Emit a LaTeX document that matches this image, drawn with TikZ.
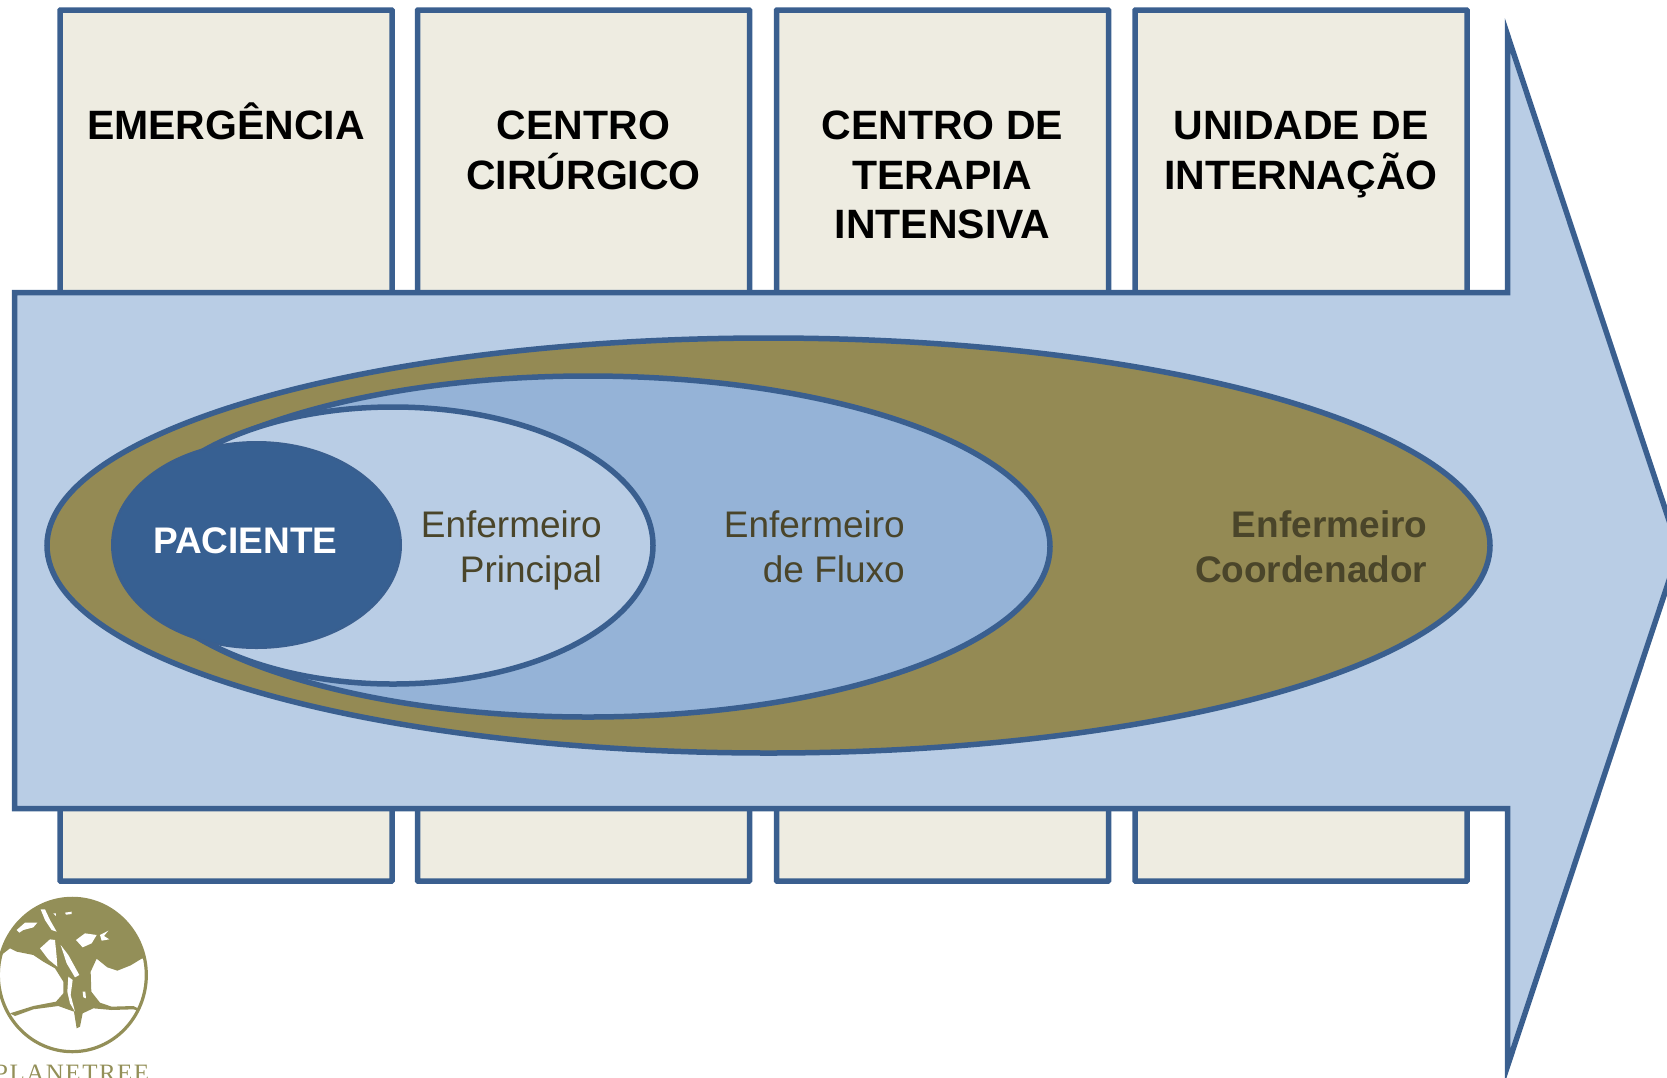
\documentclass[tikz,border=0pt]{standalone}
\usepackage{fontspec}
\setmainfont{Liberation Sans}
\newfontfamily\logoserif{Liberation Serif}[LetterSpace=6]
\usetikzlibrary{shapes.geometric}
\definecolor{edgeblue}{HTML}{3A5F8F}
\definecolor{boxfill}{HTML}{EEECE1}
\definecolor{paleblue}{HTML}{B9CDE5}
\definecolor{midblue}{HTML}{95B3D7}
\definecolor{olivefill}{HTML}{948A54}
\definecolor{patientblue}{HTML}{376092}
\definecolor{olivetext}{HTML}{4A452A}
\definecolor{logoolive}{HTML}{938F58}
\newcommand{\capline}{\rule{0pt}{40pt}}
\newcommand{\roleline}{\rule{0pt}{30pt}}
\tikzset{
  stage/.style={draw=edgeblue,fill=boxfill,line width=5.5pt,minimum width=332pt,minimum height=871pt,inner sep=0pt,rounded corners=0.5pt},
  ring/.style={ellipse,draw=edgeblue,line width=5.5pt,inner sep=0pt},
  stagetext/.style={anchor=north,inner sep=0pt,align=center,text=black,font=\fontsize{41}{49.5}\selectfont\bfseries},
  roletext/.style={anchor=north east,inner sep=0pt,align=right,text=olivetext,font=\fontsize{37}{45.7}\selectfont},
}
\begin{document}
\begin{tikzpicture}[x=1pt,y=-1pt]
\useasboundingbox (0,0) rectangle (1667,1077);
% stage boxes
\node[stage] (b1) at (226,445.5) {};
\node[stage] (b2) at (583.5,445.5) {};
\node[stage] (b3) at (942.5,445.5) {};
\node[stage] (b4) at (1301,445.5) {};
% big arrow
\draw[edgeblue,fill=paleblue,line width=5.5pt,miter limit=10]
  (14.5,292.5) -- (1507.5,292.5) -- (1507.5,35) -- (1679,550.5) -- (1507.5,1066) -- (1507.5,808.5) -- (14.5,808.5) -- cycle;
% rings
\node[ring,fill=olivefill,minimum width=1443pt,minimum height=415pt] (r1) at (768.5,545.5) {};
\node[ring,fill=midblue,minimum width=924pt,minimum height=341pt] (r2) at (588,546.5) {};
\node[ring,fill=paleblue,minimum width=520pt,minimum height=277pt] (r3) at (393,545.5) {};
\node[ellipse,draw=edgeblue,fill=patientblue,line width=2pt,inner sep=0pt,minimum width=289pt,minimum height=206pt] (r4) at (256.5,545) {};
% texts
\node[stagetext] (t1) at (226,99.3) {\capline EMERGÊNCIA};
\node[stagetext] (t2) at (583.5,99.3) {\capline CENTRO\\CIRÚRGICO};
\node[stagetext] (t3) at (942.5,99.3) {\capline CENTRO DE\\TERAPIA\\INTENSIVA};
\node[stagetext] (t4) at (1301,99.3) {\capline UNIDADE DE\\INTERNAÇÃO};
\node[anchor=north,inner sep=0pt,text=white,font=\fontsize{37}{45}\selectfont\bfseries] (tp) at (245.5,523.5) {\roleline PACIENTE};
\node[roletext] (te1) at (602,507) {\roleline Enfermeiro\\Principal};
\node[roletext] (te2) at (905,507) {\roleline Enfermeiro\\de Fluxo};
\node[roletext,font=\fontsize{37}{45.7}\selectfont\bfseries] (te3) at (1427.5,507) {\roleline Enfermeiro\\Coordenador};
% logo
\begin{scope}[shift={(0,880)},x=0.3333pt,y=-0.3333pt]
  \begin{scope}
    \clip (217,285) ellipse [x radius=222,y radius=230];
    \fill[logoolive] (-10,-10) -- (450,-10) -- (450,232) -- (425,236) -- (392,256) -- (352,272) -- (322,262) -- (290,236) -- (272,275) -- (274,335) -- (300,368) -- (335,380) -- (400,378) -- (440,398) -- (400,388) -- (335,390) -- (280,385) -- (248,400) -- (240,440) -- (230,445) -- (222,395) -- (175,378) -- (100,388) -- (45,408) -- (30,400) -- (100,378) -- (168,365) -- (190,340) -- (190,305) -- (165,265) -- (130,245) -- (100,225) -- (50,215) -- (30,205) -- (0,228) -- (-10,232) -- cycle;
    \fill[white] (122,88) -- (135,88) -- (150,120) -- (170,155) -- (155,150) -- (135,120) -- cycle;
    \fill[white] (50,150) -- (75,128) -- (112,128) -- (100,142) -- (70,150) -- (58,158) -- cycle;
    \fill[white] (120,205) -- (150,178) -- (165,180) -- (170,230) -- (172,260) -- (145,238) -- cycle;
    \fill[white] (182,195) -- (205,225) -- (238,285) -- (225,292) -- (200,250) -- cycle;
    \fill[white] (205,290) -- (218,300) -- (212,345) -- (225,395) -- (210,370) -- (202,335) -- cycle;
    \fill[white] (228,180) -- (255,160) -- (290,165) -- (275,190) -- (248,202) -- cycle;
    \fill[white] (300,165) -- (325,152) -- (312,168) -- (328,178) -- (305,182) -- cycle;
    \fill[white] (248,335) -- (256,335) -- (258,355) -- (250,352) -- cycle;
    \fill[white] (160,100) -- (168,100) -- (168,108) -- cycle;
    \fill[white] (195,98) -- (215,95) -- (215,102) -- (198,104) -- cycle;
  \end{scope}
  \draw[logoolive,line width=3.2pt] (217,285) ellipse [x radius=222,y radius=230];
\end{scope}
\node[anchor=base west,inner sep=0pt,text=logoolive,font=\logoserif\fontsize{25}{25}\selectfont] (logotext) at (-6,1081.5) {PLANETREE};
\end{tikzpicture}
\end{document}
